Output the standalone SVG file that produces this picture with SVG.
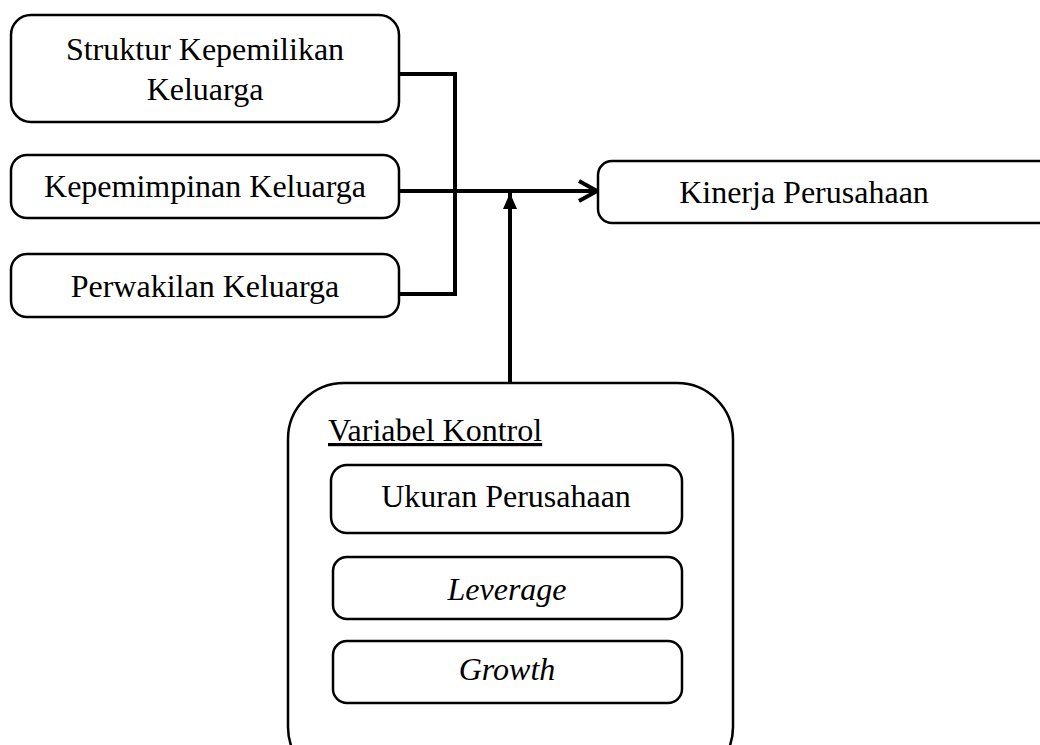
<svg xmlns="http://www.w3.org/2000/svg" width="1040" height="745" viewBox="0 0 1040 745">
<style>
.box{fill:#fff;stroke:#000;stroke-width:2.5}
.t{font-family:"Liberation Serif","Times New Roman",serif;font-size:32px;fill:#000;text-anchor:middle}
.i{font-style:italic}
.c{fill:none;stroke:#000;stroke-width:4}
</style>
<defs>
<marker id="open" viewBox="0 0 20 24" refX="19" refY="12" markerWidth="20" markerHeight="24" markerUnits="userSpaceOnUse" orient="auto">
<path d="M1,2 L19,12 L1,22" fill="none" stroke="#000" stroke-width="4"/>
</marker>
<marker id="fill" viewBox="0 0 16 14" refX="16" refY="7" markerWidth="16" markerHeight="14" markerUnits="userSpaceOnUse" orient="auto">
<path d="M0,0 L16,7 L0,14 Z" fill="#000"/>
</marker>
</defs>
<g id="connectors">
<path class="c" d="M399,74 H455 V294 H399"/>
<path class="c" d="M399,191 H597" marker-end="url(#open)"/>
<path class="c" d="M510,383 V193" marker-end="url(#fill)"/>
</g>
<g id="n1"><rect class="box" x="11" y="15" width="388" height="107" rx="20"/>
<text class="t" x="205" y="60">Struktur Kepemilikan</text>
<text class="t" x="205" y="100">Keluarga</text></g>
<g id="n2"><rect class="box" x="11" y="155" width="388" height="63" rx="16"/>
<text class="t" x="205" y="197">Kepemimpinan Keluarga</text></g>
<g id="n3"><rect class="box" x="11" y="254" width="388" height="63" rx="16"/>
<text class="t" x="205" y="297">Perwakilan Keluarga</text></g>
<g id="n4"><rect class="box" x="598" y="161" width="460" height="62" rx="14"/>
<text class="t" x="804" y="203">Kinerja Perusahaan</text></g>
<g id="n5"><rect class="box" x="288" y="383" width="445" height="400" rx="56"/>
<text class="t" x="328" y="441" style="text-anchor:start;text-decoration:underline">Variabel Kontrol</text></g>
<g id="n6"><rect class="box" x="331" y="465" width="351" height="68" rx="16"/>
<text class="t" x="506" y="507">Ukuran Perusahaan</text></g>
<g id="n7"><rect class="box" x="333" y="557" width="349" height="62" rx="14"/>
<text class="t i" x="507" y="600">Leverage</text></g>
<g id="n8"><rect class="box" x="333" y="641" width="349" height="62" rx="14"/>
<text class="t i" x="507" y="680">Growth</text></g>
</svg>
